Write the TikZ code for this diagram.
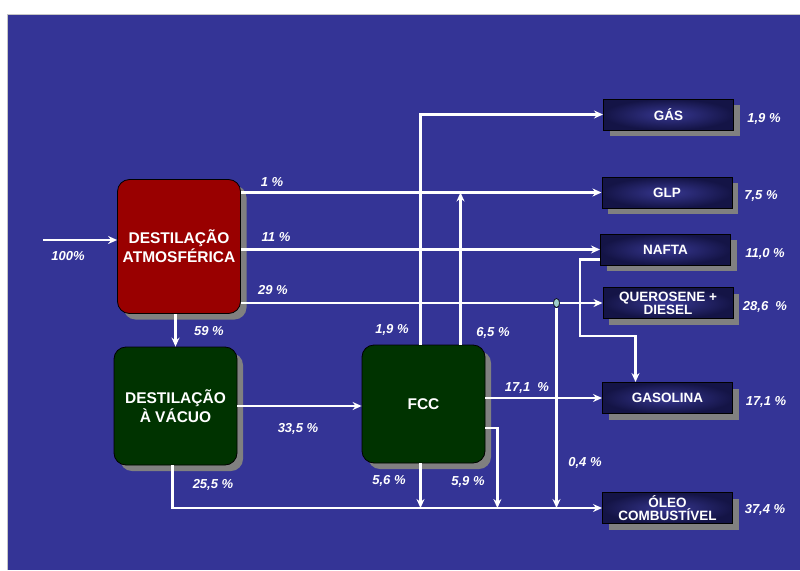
\documentclass[tikz,border=0pt]{standalone}
\usepackage{fontspec}
\setmainfont{Liberation Sans}
\usetikzlibrary{arrows.meta,shadows,shapes.geometric}
\definecolor{fundo}{RGB}{52,52,150}
\definecolor{atmred}{RGB}{153,0,0}
\definecolor{vacgreen}{RGB}{0,51,0}
\definecolor{prodin}{RGB}{55,55,145}
\definecolor{prodout}{RGB}{20,20,70}
\definecolor{sombra}{RGB}{128,128,128}
\definecolor{azulclaro}{RGB}{160,205,205}
\tikzset{
  unidade/.style={rounded corners=12pt, draw=black, line width=0.8pt, text=white,
    align=center, inner sep=1pt, font=\fontsize{15.5}{19}\selectfont\bfseries,
    drop shadow={shadow xshift=6pt, shadow yshift=-6pt, fill=sombra, opacity=1}},
  produto/.style={rectangle, draw=black, line width=1pt, inner color=prodin,
    outer color=prodout, text=white, align=center, minimum width=130pt,
    minimum height=31pt, inner sep=1pt, font=\fontsize{13.5}{13}\selectfont\bfseries,
    drop shadow={shadow xshift=6pt, shadow yshift=-6pt, fill=sombra, opacity=1}},
  pct/.style={text=white, inner sep=0pt, font=\fontsize{13}{15}\selectfont\bfseries\itshape},
  fluxo/.style={draw=white, line width=2.2pt},
  juncao/.style={ellipse, draw=black, line width=0.6pt, fill=azulclaro,
    minimum width=6pt, minimum height=9pt, inner sep=0pt},
}
\begin{document}
\begin{tikzpicture}[x=1pt, y=-1pt, >={Stealth[length=9pt,width=8pt,inset=3pt]}]
  \useasboundingbox (0,0) rectangle (800,570);
  \fill[fundo] (7,14) rectangle (800,570);
  \draw[gray!45] (7,570) -- (7,14) -- (800,14);
  % unidades
  \node[unidade, fill=atmred, minimum width=123pt, minimum height=134pt] (da) at (179,246.5) {DESTILAÇÃO\\ATMOSFÉRICA};
  \node[unidade, fill=vacgreen, minimum width=123pt, minimum height=118pt] (dv) at (175.5,406) {DESTILAÇÃO\\À VÁCUO};
  \node[unidade, fill=vacgreen, minimum width=123pt, minimum height=118pt] (fcc) at (423.5,404) {FCC};
  % produtos
  \node[produto] (gas) at (668.5,114.5) {GÁS};
  \node[produto] (glp) at (667,192.5) {GLP};
  \node[produto] (nafta) at (665.5,249.5) {NAFTA};
  \node[produto] (quer) at (668,303) {QUEROSENE +\\DIESEL};
  \node[produto] (gasol) at (667.5,398) {GASOLINA};
  \node[produto] (oleo) at (667.5,508) {ÓLEO\\COMBUSTÍVEL};
  % correntes
  \coordinate (entrada) at (43,240);
  \draw[fluxo, ->] (entrada) -- (entrada -| da.west);
  \draw[fluxo, ->] (da.east |- glp) -- (glp.west);
  \draw[fluxo, ->] (da.east |- nafta) -- (nafta.west);
  \draw[fluxo, ->] (da.east |- quer) -- (quer.west);
  \draw[fluxo, ->] (da.south -| dv.north) -- (dv.north);
  \draw[fluxo, ->] (dv.east) -- (dv.east -| fcc.west);
  \draw[fluxo, ->] ([xshift=-3pt]dv.south) |- (oleo.west);
  \coordinate (f1) at ([xshift=-3pt]fcc.north);
  \coordinate (f2) at ([xshift=37pt]fcc.north);
  \draw[fluxo, ->] (f1) |- (gas.west);
  \draw[fluxo, ->] (f2) -- (f2 |- glp);
  \draw[fluxo, ->] (fcc.east |- gasol) -- (gasol.west);
  \draw[fluxo, ->] ([xshift=-3pt]fcc.south) -- ([xshift=-3pt]fcc.south |- oleo);
  \coordinate (f3) at ([yshift=-24pt]fcc.east);
  \coordinate (f4) at ([xshift=12pt]f3);
  \draw[fluxo, ->] (f3) -- (f4) -- (f4 |- oleo);
  \coordinate (n1) at ([xshift=-20pt,yshift=-10pt]nafta.west);
  \coordinate (n2) at ([xshift=-32pt,yshift=46pt]gasol.north);
  \draw[fluxo, ->] ([yshift=-10pt]nafta.west) -- (n1) |- (n2) -- (n2 |- gasol.north);
  \node[juncao] (jd) at ([xshift=-46pt]quer.west) {};
  \draw[fluxo, ->] (jd.south) -- (jd |- oleo);
  % percentuais
  \foreach \nm/\pos/\txt in {
      p100/{(68,256)}/{100\%}, p1/{(272,182)}/{1 \%}, p11/{(276,237)}/{11 \%},
      p29/{(273,290)}/{29 \%}, p59/{(209,331)}/{59 \%}, p335/{(298,429)}/{33,5 \%},
      p255/{(213,485)}/{25,5 \%}, pf19/{(392,330)}/{1,9 \%}, pf65/{(493,333)}/{6,5 \%},
      pf171/{(527,388)}/{17,1~~\%}, pf56/{(389,481)}/{5,6 \%}, pf59/{(468,482)}/{5,9 \%},
      pf04/{(585,463)}/{0,4 \%},
      r19/{(764,119)}/{1,9 \%}, r75/{(761,196)}/{7,5 \%}, r110/{(765,254)}/{11,0 \%},
      r286/{(765,307)}/{28,6~~\%}, r171/{(766,402)}/{17,1 \%}, r374/{(765,510)}/{37,4 \%}} {
    \node[pct] (\nm) at \pos {\txt};
  }
\end{tikzpicture}
\end{document}
